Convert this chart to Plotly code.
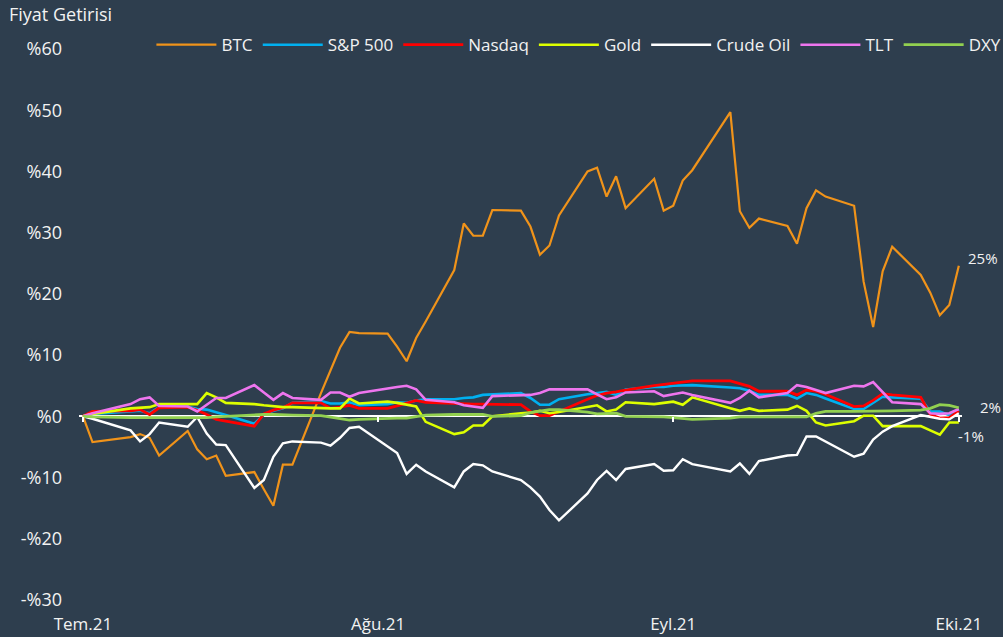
import plotly.graph_objects as go

dates = [
    "2021-07-01", "2021-07-02", "2021-07-06", "2021-07-07", "2021-07-08", "2021-07-09",
    "2021-07-12", "2021-07-13", "2021-07-14", "2021-07-15", "2021-07-16",
    "2021-07-19", "2021-07-20", "2021-07-21", "2021-07-22", "2021-07-23",
    "2021-07-26", "2021-07-27", "2021-07-28", "2021-07-29", "2021-07-30",
    "2021-08-02", "2021-08-03", "2021-08-04", "2021-08-05", "2021-08-06",
    "2021-08-09", "2021-08-10", "2021-08-11", "2021-08-12", "2021-08-13",
    "2021-08-16", "2021-08-17", "2021-08-18", "2021-08-19", "2021-08-20",
    "2021-08-23", "2021-08-24", "2021-08-25", "2021-08-26", "2021-08-27",
    "2021-08-30", "2021-08-31", "2021-09-01", "2021-09-02", "2021-09-03",
    "2021-09-07", "2021-09-08", "2021-09-09", "2021-09-10",
    "2021-09-13", "2021-09-14", "2021-09-15", "2021-09-16", "2021-09-17",
    "2021-09-20", "2021-09-21", "2021-09-22", "2021-09-23", "2021-09-24",
    "2021-09-27", "2021-09-28", "2021-09-29", "2021-09-30", "2021-10-01",
]

btc = [0, -4.2, -3.4, -2.9, -3.5, -6.4, -2.4, -5.4, -7.0, -6.4, -9.7, -9.1, -11.9, -14.6, -7.9, -7.9,
       3.8, 7.5, 11.2, 13.8, 13.6,
       13.5, 11.4, 9.0, 12.8, 15.5, 23.9, 31.5, 29.5, 29.5, 33.7, 33.6, 31.0, 26.4, 27.9, 32.8,
       40.0, 40.6, 35.9, 39.2, 34.0, 38.8, 33.6,
       34.4, 38.5, 40.2, 49.7, 33.5, 30.8, 32.3, 31.1, 28.2, 34.0, 36.9, 35.9, 34.4, 22.0, 14.6,
       23.7, 27.7, 23.1, 20.2, 16.5, 18.2,
       24.6]

sp500 = [0, 0.4, 0.8, 0.9, 0.5, 1.5, 1.6, 1.2, 1.1, 0.7, 0.2, -1.2, 0.3, 0.9, 1.3, 2.2, 2.5, 2.1, 2.1, 2.3, 1.8,
         2.0, 2.3, 2.2, 2.6, 2.8, 2.8, 3.0, 3.1, 3.5, 3.6, 3.8, 3.0, 1.9, 1.9, 2.8, 3.6, 3.8, 4.0, 3.5, 4.4, 4.8, 4.8,
         5.0, 5.1, 5.1, 4.7, 4.6, 4.2, 3.5, 3.5, 2.9, 3.8, 3.5, 2.9, 1.2, 1.2, 2.2, 3.2, 3.1, 2.9, 0.8, 0.8, 0.2,
         1.1]

nasdaq = [0, 0.8, 0.9, 1.1, 0.3, 1.4, 1.5, 1.0, 0.3, -0.5, -0.8, -1.6, 0.4, 1.0, 1.4, 2.2, 2.2, 1.3, 1.5, 1.8, 1.3,
          1.3, 1.7, 2.2, 2.6, 2.3, 2.1, 2.0, 2.0, 2.0, 2.0, 1.9, 0.8, 0.1, 0.1, 0.8, 2.8, 3.4, 3.8, 4.0, 4.3, 5.0, 5.2,
          5.4, 5.6, 5.8, 5.8, 5.4, 4.9, 4.1, 4.1, 3.5, 4.3, 4.1, 3.6, 1.6, 1.7, 2.6, 3.7, 3.5, 3.1, 0.3, -0.3, -0.2,
          0.9]

gold = [0, 0.4, 1.3, 1.4, 1.5, 2.0, 2.0, 2.0, 3.8, 3.1, 2.2, 2.0, 1.8, 1.6, 1.5, 1.5, 1.3, 1.3, 1.3, 2.9, 2.1,
        2.4, 2.2, 1.9, 1.6, -0.9, -2.9, -2.6, -1.5, -1.5, 0.0, 0.5, 0.6, 0.9, 0.5, 0.7, 1.5, 1.8, 0.8, 1.1, 2.3, 2.0, 2.2,
        2.4, 1.9, 3.1, 1.3, 0.9, 1.3, 0.9, 1.1, 1.7, 0.9, -1.0, -1.5, -0.8, 0.1, 0.1, -1.6, -1.6, -1.6, -2.3, -3.0, -1.0,
        -1.0]

crude = [0, -0.4, -2.3, -4.1, -2.9, -1.0, -1.7, -0.1, -2.8, -4.6, -4.7, -11.7, -10.4, -6.6, -4.4, -4.1,
         -4.3, -4.8, -3.5, -1.9, -1.7,
         -4.9, -6.0, -9.4, -7.9, -9.0, -11.6, -9.0, -7.8, -8.0, -9.0, -10.4, -11.6, -13.1, -15.3, -17.0,
         -12.6, -10.4, -8.9, -10.4, -8.6, -7.8, -8.9,
         -8.8, -7.0, -7.8, -9.0, -7.7, -9.4, -7.3, -6.4, -6.3, -3.3, -3.3, -4.1, -6.6, -6.1, -3.8, -2.5, -1.6,
         0.2, -0.1, -0.4, -0.5,
         0.5]

tlt = [0, 0.5, 2.0, 2.8, 3.1, 1.7, 1.6, 0.8, 1.9, 3.0, 3.0, 5.1, 3.9, 2.7, 3.8, 3.0, 2.7, 3.9, 3.9, 3.2, 3.8,
       4.6, 4.8, 5.0, 4.4, 2.7, 2.3, 1.8, 1.6, 1.4, 3.3, 3.4, 3.5, 3.8, 4.4, 4.4, 4.4, 3.6, 2.8, 3.1, 3.9, 4.1, 3.3,
       3.6, 3.9, 3.5, 2.2, 3.0, 4.2, 3.1, 3.8, 5.1, 4.8, 4.3, 3.8, 5.0, 4.9, 5.6, 3.9, 2.3, 2.0, 0.5, 0.4, 0.5,
       1.2]

dxy = [0, -0.1, -0.2, -0.2, -0.3, -0.3, -0.3, -0.2, -0.2, -0.1, 0.0, 0.2, 0.3, 0.3, 0.2, 0.2, 0.1, -0.1, -0.3, -0.6, -0.5,
       -0.3, -0.3, -0.3, -0.1, 0.2, 0.3, 0.3, 0.3, 0.3, 0.0, 0.1, 0.6, 0.8, 1.1, 1.1, 0.7, 0.4, 0.4, 0.5, 0.0, 0.0, -0.1,
       -0.2, -0.4, -0.5, -0.3, -0.1, -0.1, -0.1, 0.0, 0.0, -0.1, 0.5, 0.8, 0.8, 0.8, 0.8, 0.8, 0.9, 1.0, 1.3, 1.9, 1.8,
       1.4]

series_names = ["BTC", "S&P 500", "Nasdaq", "Gold", "Crude Oil", "TLT", "DXY"]
series_values = [btc, sp500, nasdaq, gold, crude, tlt, dxy]
series_colors = ["#F0931A", "#00B0F0", "#FF0000", "#DDFF00", "#FFFFFF", "#EE75EE", "#92D050"]
series_widths = [2.2, 2.6, 2.8, 2.6, 2.4, 2.6, 2.8]
series_xaxis = ["x", "x", "x", "x", "x", "x", "x2"]

x_tick_vals = ["2021-07-01", "2021-08-01", "2021-09-01", "2021-10-01"]
x_tick_text = ["Tem.21", "Ağu.21", "Eyl.21", "Eki.21"]
y_tick_vals = [60, 50, 40, 30, 20, 10, 0, -10, -20, -30]
y_tick_text = ["%60", "%50", "%40", "%30", "%20", "%10", "%0", "-%10", "-%20", "-%30"]

end_labels = ["25%", "2%", "-1%"]
end_label_y = [25.9, 1.6, -3.2]
end_label_x = [1.024, 1.032, 1.010]

BG = "#2E3E4E"
TXT = "#F2F2F2"

fig = go.Figure()
for name, vals, col, w, xa in zip(series_names, series_values, series_colors, series_widths, series_xaxis):
    fig.add_trace(go.Scatter(x=dates, y=vals, mode="lines", name=name, xaxis=xa, yaxis="y",
                             line=dict(color=col, width=w)))

for txt, yv, xv in zip(end_labels, end_label_y, end_label_x):
    fig.add_annotation(text=txt, x=xv, xref="paper", y=yv, yref="y", showarrow=False,
                       xanchor="center", yanchor="middle", font=dict(size=15, color=TXT))

fig.update_layout(
    width=1003, height=637,
    paper_bgcolor=BG, plot_bgcolor=BG,
    margin=dict(l=79, r=41, t=49, b=37, pad=0, autoexpand=False),
    font=dict(family="Open Sans", color=TXT, size=17),
    title=dict(text="Fiyat Getirisi", x=9 / 1003, xanchor="left", xref="container",
               y=1 - 15 / 637, yanchor="middle", yref="container",
               font=dict(size=18, color=TXT, family="Open Sans")),
    showlegend=True,
    legend=dict(orientation="h", x=0.082, xanchor="left", y=1.007, yanchor="middle",
                bgcolor="rgba(0,0,0,0)", font=dict(size=17, color=TXT),
                itemwidth=60, traceorder="normal"),
    xaxis=dict(type="date", range=["2021-06-30 14:00", "2021-10-01 08:00"], automargin=False,
               tickvals=x_tick_vals, ticktext=x_tick_text, showgrid=False, zeroline=False,
               showline=False, ticks="", ticklabelstandoff=12,
               tickfont=dict(size=17, color=TXT)),
    xaxis2=dict(type="date", overlaying="x", matches="x", anchor="free", position=1 / 3,
                tickvals=x_tick_vals, ticks="outside", ticklen=5, tickwidth=1.5, tickcolor="#FFFFFF",
                showticklabels=False, showgrid=False, showline=False, zeroline=False, automargin=False),
    yaxis=dict(range=[-30, 60], tickvals=y_tick_vals, ticktext=y_tick_text, showgrid=False,
               zeroline=True, zerolinecolor="#FFFFFF", zerolinewidth=2, showline=False, ticks="",
               ticklabelstandoff=16, automargin=False, tickfont=dict(size=18, color=TXT)),
)

fig.write_html("out.html", config={"displayModeBar": False},
               post_script="document.body.style.margin='0';document.body.style.overflow='hidden';")
